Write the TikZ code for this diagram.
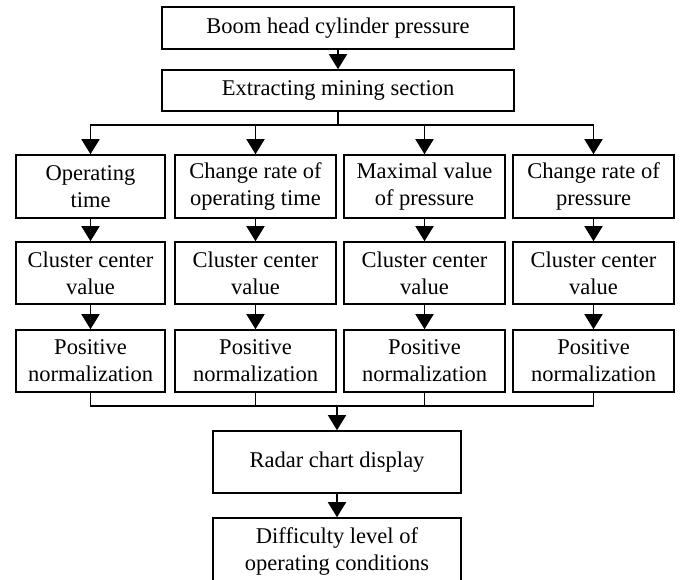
\documentclass[tikz,border=0pt]{standalone}
\usepackage{fontspec}
\setmainfont{Liberation Serif}
\usepackage{tikz}
\usetikzlibrary{arrows.meta}

\tikzset{
    box/.style={draw, line width=1.6pt, align=center, inner sep=0pt,
        minimum height=62pt, font=\fontsize{22.5}{27}\selectfont},
    wide/.style={box, minimum width=352pt, minimum height=42pt},
    col/.style={box, minimum width=161pt},
    flow/.style={line width=1.6pt, -{Triangle[length=15pt,width=18pt]}},
    link/.style={line width=1.6pt}
}

\begin{document}
\begin{tikzpicture}[x=1pt, y=-1pt]
    \useasboundingbox (0,0) rectangle (680,579);

    \node[wide] (boom) at (338,28) {Boom head cylinder pressure};
    \node[wide, minimum height=41pt] (extract) at (338,90.5) {Extracting mining section};

    % first row
    \node[col, minimum width=149pt, minimum height=63pt] (feat1) at (90.5,186.5) {Operating\\time};
    \node[col, minimum height=63pt] (feat2) at (255.5,186.5) {Change rate of\\operating time};
    \node[col, minimum height=63pt] (feat3) at (424.5,186.5) {Maximal value\\of pressure};
    \node[col, minimum height=63pt] (feat4) at (593.5,186.5) {Change rate of\\pressure};

    % second row
    \node[col, minimum width=149pt] (clus1) at (90.5,273) {Cluster center\\value};
    \node[col] (clus2) at (255.5,273) {Cluster center\\value};
    \node[col] (clus3) at (424.5,273) {Cluster center\\value};
    \node[col] (clus4) at (593.5,273) {Cluster center\\value};

    % third row
    \node[col, minimum width=149pt] (norm1) at (90.5,361) {Positive\\normalization};
    \node[col] (norm2) at (255.5,361) {Positive\\normalization};
    \node[col] (norm3) at (424.5,361) {Positive\\normalization};
    \node[col] (norm4) at (593.5,361) {Positive\\normalization};

    \node[box, minimum width=248pt] (radar) at (337,462) {Radar chart display};
    \node[box, minimum width=248pt, minimum height=66pt] (level) at (337,551) {Difficulty level of\\operating conditions};

    \coordinate (split) at (338,125);
    \coordinate (merge) at (337,406);

    \draw[flow] (boom) -- (extract);
    \draw[link] (extract) -- (split);
    \foreach \i in {1,...,4} {
        \draw[flow] (split) -| (feat\i.north);
        \draw[flow] (feat\i) -- (clus\i);
        \draw[flow] (clus\i) -- (norm\i);
        \draw[link] (norm\i.south) |- (merge);
    }
    \draw[flow] (merge) -- (radar);
    \draw[flow] (radar) -- (level);
\end{tikzpicture}
\end{document}
